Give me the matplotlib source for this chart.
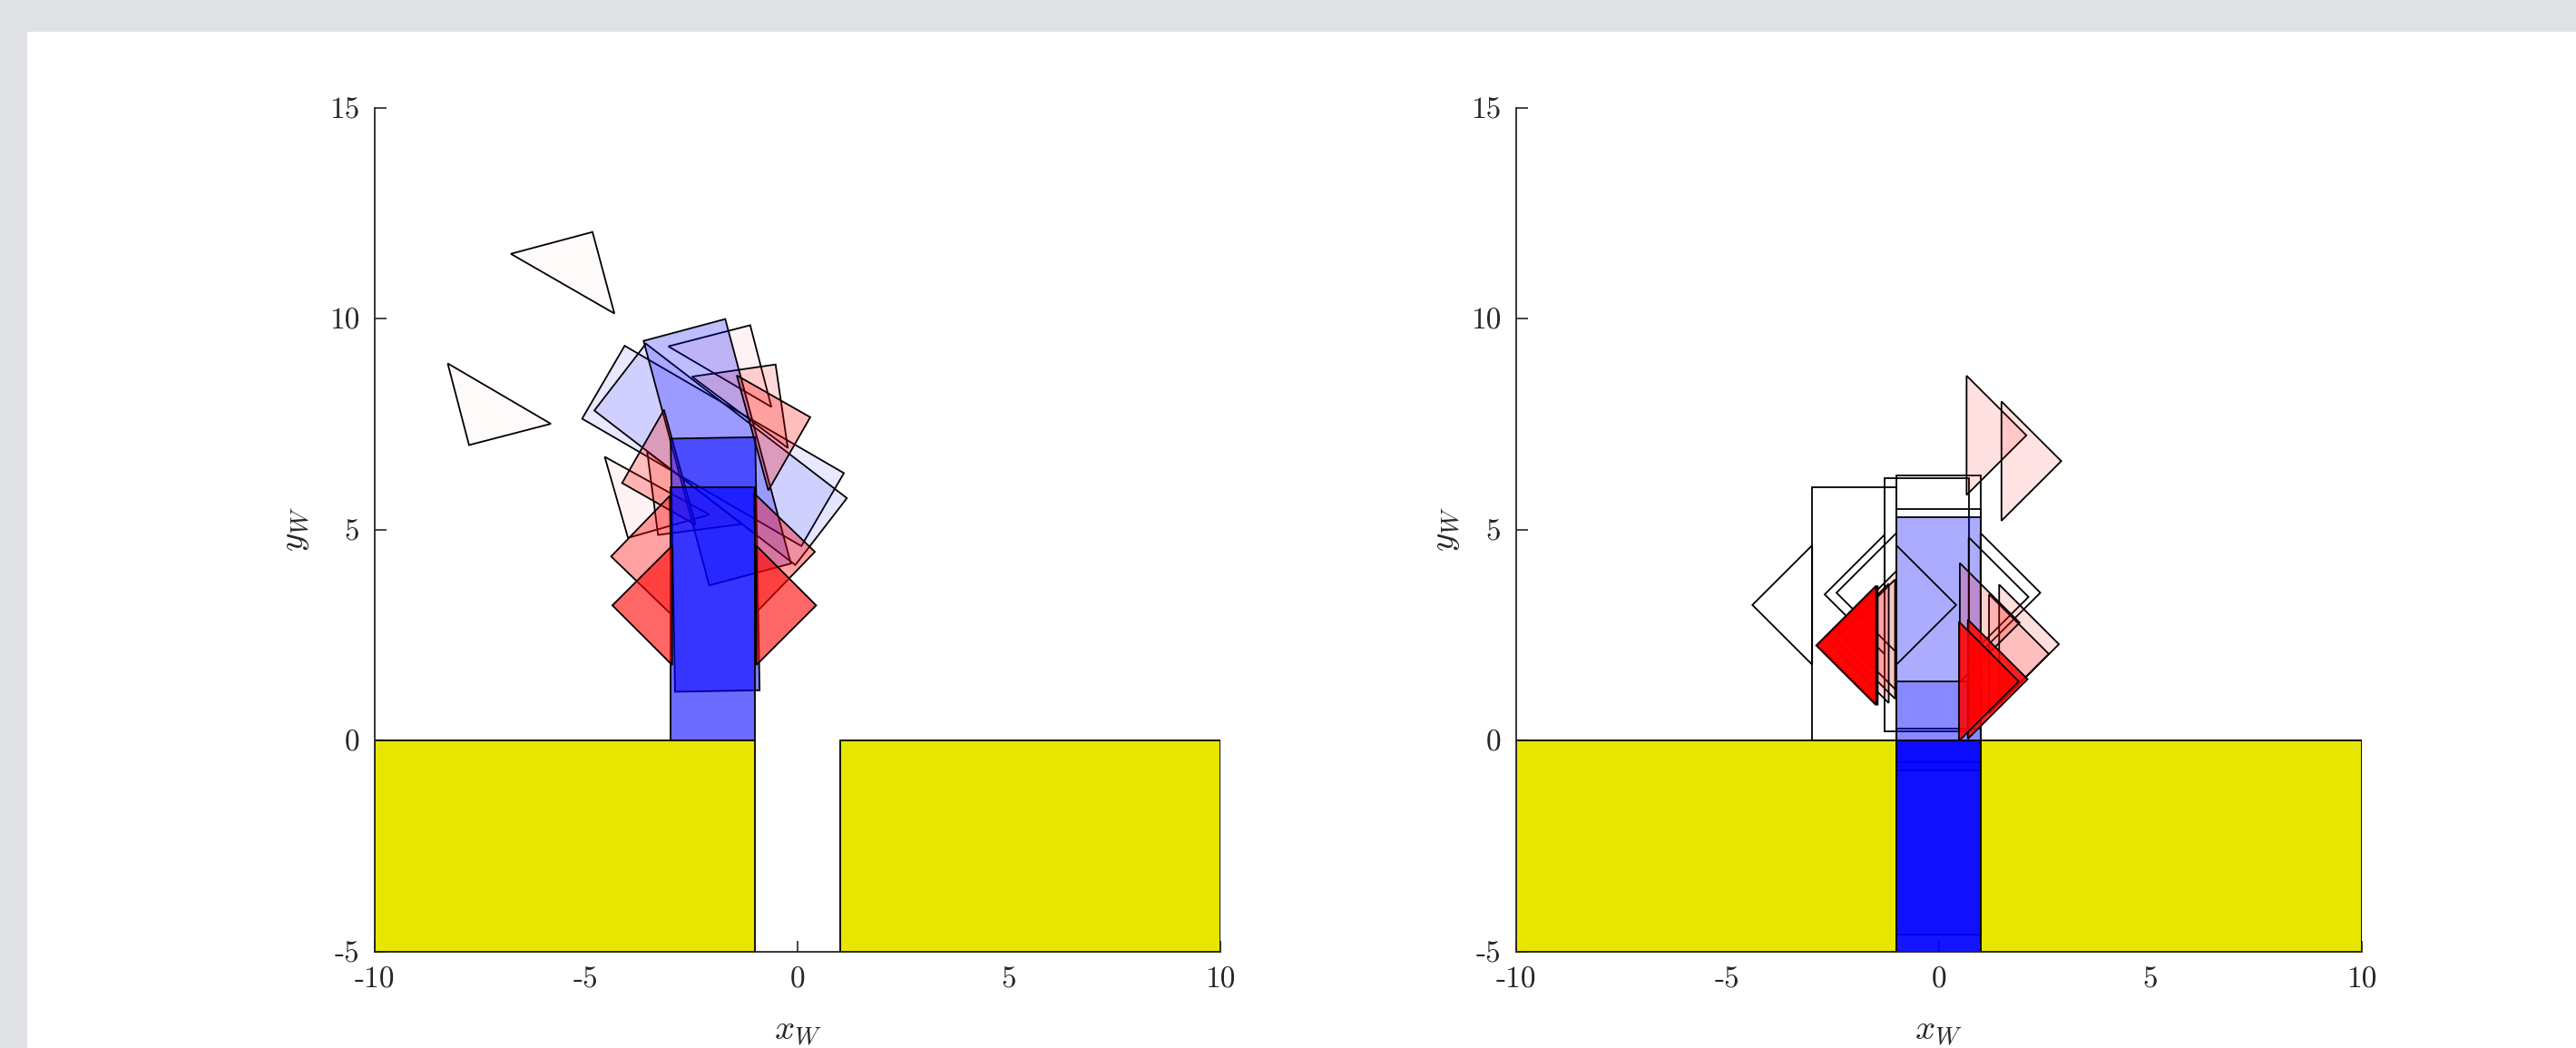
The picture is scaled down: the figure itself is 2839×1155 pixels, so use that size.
import numpy as np
import matplotlib
matplotlib.use('Agg')
import matplotlib.pyplot as plt
from matplotlib.patches import Polygon, Rectangle

plt.rcParams['mathtext.fontset'] = 'cm'
plt.rcParams['font.family'] = ['cmr10', 'DejaVu Serif']
plt.rcParams['axes.unicode_minus'] = False

# ---------------- data ----------------
x_ticks = [-10, -5, 0, 5, 10]
x_tick_labels = ['-10', '-5', '0', '5', '10']
y_ticks = [-5, 0, 5, 10, 15]
y_tick_labels = ['-5', '0', '5', '10', '15']

# ground segments (x0, x1), from y=-5 to 0
ground_x0 = [-10, 1]
ground_x1 = [-1, 10]

# block 2 x 6 : centre x, centre y, rotation (deg), fill alpha
left_block_cx = [-2.00, -1.82, -1.90, -1.95, -2.00]
left_block_cy = [6.98, 6.78, 6.83, 4.17, 3.00]
left_block_th = [59.8, 52.4, 15.0, 1.0, 0.0]
left_block_a = [0.09, 0.10, 0.26, 0.50, 0.58]

# finger triangles (legs 2): right-angle vertex x, y, pointing dir (deg), alpha
left_fing_px = [-4.85, -7.77, -1.12, -4.01, -0.52, -3.30, 0.30, -4.15, -4.41, 0.41, -4.38, 0.44]
left_fing_py = [12.05, 7.00, 9.84, 4.80, 8.91, 4.87, 7.66, 6.10, 4.36, 4.47, 3.20, 3.20]
left_fing_dir = [-120.0, 59.6, -120.5, 61.0, -126.7, 52.4, 195.3, 15.3, 1.0, 181.0, 0.0, 180.0]
left_fing_a = [0.02, 0.02, 0.05, 0.05, 0.15, 0.15, 0.26, 0.26, 0.37, 0.37, 0.60, 0.60]
left_order = [0, 0, 1, 1, 2, 2, 3, 3, 4, 4, 5, 5]   # frame index of each finger

right_block_cx = [-2.00, -0.29, 0.00, 0.00, 0.00, 0.00, 0.00]
right_block_cy = [3.00, 3.22, 3.27, 2.49, 2.28, -1.60, -3.00]
right_block_th = [0.0, 0.0, 0.0, 0.0, 0.0, 0.0, 0.0]
right_block_a = [0.0, 0.0, 0.0, 0.02, 0.31, 0.20, 0.92]

right_fing_px = [-4.41, 0.41, -2.70, 2.12, -2.42, 2.40, 2.07, 2.895,
                 -2.42, 2.84, -2.45, 2.60, -2.60, 1.91, -2.86, 2.10, -2.90, 1.89]
right_fing_py = [3.21, 3.21, 3.46, 3.40, 3.50, 3.50, 7.23, 6.62,
                 2.60, 2.28, 2.40, 2.05, 2.30, 2.79, 2.25, 1.45, 2.25, 1.40]
right_fing_dir = [0, 180, 0, 180, 0, 180, 180, 180,
                  0, 180, 0, 180, 0, 180, 0, 180, 0, 180]
right_fing_a = [0.0, 0.0, 0.0, 0.0, 0.0, 0.0, 0.12, 0.11,
                0.11, 0.13, 0.14, 0.14, 0.16, 0.18, 0.85, 0.85, 0.85, 0.85]

# ---------------- helpers ----------------
EDGE_LW = 1.3


def block_poly(cx, cy, th, w=2.0, h=6.0):
    t = np.deg2rad(th)
    c, s = np.cos(t), np.sin(t)
    pts = np.array([[-w / 2, -h / 2], [w / 2, -h / 2], [w / 2, h / 2], [-w / 2, h / 2]])
    R = np.array([[c, -s], [s, c]])
    return pts @ R.T + np.array([cx, cy])


def tri_poly(px, py, d, leg=2.0):
    a1 = np.deg2rad(d + 45)
    a2 = np.deg2rad(d - 45)
    return np.array([[px, py],
                     [px + leg * np.cos(a1), py + leg * np.sin(a1)],
                     [px + leg * np.cos(a2), py + leg * np.sin(a2)]])


def add_poly(ax, pts, rgb, alpha, z):
    ax.add_patch(Polygon(pts, closed=True, facecolor=(*rgb, alpha),
                         edgecolor='black', linewidth=EDGE_LW, zorder=z))


def style_axes(ax, ylabel_x):
    ax.set_xlim(-10, 10)
    ax.set_ylim(-5, 15)
    for sp in ['top', 'right']:
        ax.spines[sp].set_visible(False)
    for sp in ['left', 'bottom']:
        ax.spines[sp].set_color('#262626')
        ax.spines[sp].set_linewidth(1.3)
        ax.spines[sp].set_zorder(50)
    ax.set_xticks(x_ticks)
    ax.set_xticklabels(x_tick_labels)
    ax.set_yticks(y_ticks)
    ax.set_yticklabels(y_tick_labels)
    ax.tick_params(direction='in', length=9, width=1.2, colors='#262626',
                   labelsize=24)
    ax.tick_params(axis='x', pad=12)
    ax.tick_params(axis='y', pad=12)
    ax.set_facecolor('none')
    ax.text(0.5, -0.095, r'$x_W$', transform=ax.transAxes, ha='center',
            va='center', fontsize=28, color='#262626')
    ax.text(ylabel_x, 0.5, r'$y_W$', transform=ax.transAxes, ha='center',
            va='center', fontsize=28, color='#262626', rotation=90)


def draw_ground(ax):
    for x0, x1 in zip(ground_x0, ground_x1):
        ax.add_patch(Rectangle((x0, -5), x1 - x0, 5, facecolor=(0.9, 0.9, 0.0),
                               edgecolor='black', linewidth=EDGE_LW, zorder=2))


# ---------------- figure ----------------
fig = plt.figure(figsize=(28.39, 11.55), dpi=100)
fig.patch.set_facecolor('white')
gray = '#e0e1e5'
fig.add_artist(Rectangle((0, 1 - 35 / 1155), 1, 35 / 1155, transform=fig.transFigure,
                         facecolor=gray, edgecolor='none', zorder=0))
fig.add_artist(Rectangle((0, 0), 30 / 2839, 1, transform=fig.transFigure,
                         facecolor=gray, edgecolor='none', zorder=0))

axL = fig.add_axes([413 / 2839, (1155 - 1048.5) / 1155, 932 / 2839, 930 / 1155])
axR = fig.add_axes([1670.8 / 2839, (1155 - 1048.5) / 1155, 932 / 2839, 930 / 1155])

# left panel
draw_ground(axL)
z = 5
n_frames = max(left_order) + 1
blk_frame = [1, 2, 3, 4, 5]
for f in range(n_frames):
    if f in blk_frame:
        i = blk_frame.index(f)
        add_poly(axL, block_poly(left_block_cx[i], left_block_cy[i], left_block_th[i]),
                 (0, 0, 1), left_block_a[i], z)
        z += 1
    for j, fo in enumerate(left_order):
        if fo == f:
            add_poly(axL, tri_poly(left_fing_px[j], left_fing_py[j], left_fing_dir[j]),
                     (1, 0, 0), left_fing_a[j], z)
            z += 1
style_axes(axL, -0.093)

# right panel
draw_ground(axR)
z = 5
for i in range(len(right_block_cx)):
    add_poly(axR, block_poly(right_block_cx[i], right_block_cy[i], right_block_th[i]),
             (0, 0, 1), right_block_a[i], z)
    z += 1
for j in range(len(right_fing_px)):
    add_poly(axR, tri_poly(right_fing_px[j], right_fing_py[j], right_fing_dir[j]),
             (1, 0, 0), right_fing_a[j], z)
    z += 1
style_axes(axR, -0.082)

for ax in (axL, axR):
    for p in ax.patches:
        p.set_clip_on(True)

fig.savefig('out.png', dpi=100, facecolor='white')
